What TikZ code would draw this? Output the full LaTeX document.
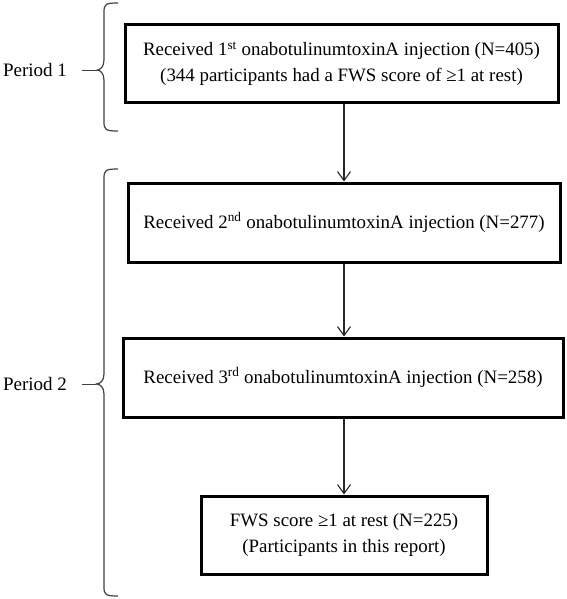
\documentclass[tikz,border=0pt]{standalone}
\usepackage{fontspec}
\setmainfont{Liberation Serif}
\usetikzlibrary{arrows.meta}
\begin{document}
\begin{tikzpicture}[x=1pt,y=-1pt,
  box/.style={draw=black,line width=3pt,inner sep=0pt,align=center,
    font=\fontsize{18.9}{26}\selectfont},
  conn/.style={draw=black!85,line width=1.1pt,-{Straight Barb[length=9pt,width=13pt,line width=1.1pt]}},
  brace/.style={draw=black!75,line width=1.2pt,line join=round},
  plabel/.style={font=\fontsize{19}{22}\selectfont,inner sep=0pt}]
\useasboundingbox (0,0) rectangle (566,599);
\node[box,minimum width=433pt,minimum height=78pt] (b1) at (341.5,64)
  {Received 1\textsuperscript{st} onabotulinumtoxinA injection (N=405)\\(344 participants had a FWS score of ≥1 at rest)};
\node[box,minimum width=432pt,minimum height=79pt] (b2) at (344,222.5)
  {Received 2\textsuperscript{nd} onabotulinumtoxinA injection (N=277)};
\node[box,minimum width=440pt,minimum height=79pt] (b3) at (343,377.5)
  {Received 3\textsuperscript{rd} onabotulinumtoxinA injection (N=258)};
\node[box,minimum width=286pt,minimum height=78pt] (b4) at (344,535)
  {FWS score ≥1 at rest (N=225)\\(Participants in this report)};
\draw[conn] (b1.south -| 344,0) -- (b2.north -| 344,0);
\draw[conn] (b2.south -| 344,0) -- (b3.north -| 344,0);
\draw[conn] (b3.south -| 344,0) -- (b4.north);
% braces
\coordinate (t1) at (97,70);
\coordinate (t2) at (96,384);
\draw[brace] (118,3) .. controls (106,3) and (104,4) .. (104,12) -- (104,60)
  .. controls (104,67) and (100,70) .. (t1) .. controls (100,70) and (104,73) .. (104,80)
  -- (104,122) .. controls (104,130) and (106,131) .. (118,131);
\draw[brace] (118,169) .. controls (106,169) and (104,170) .. (104,178) -- (104,374)
  .. controls (104,381) and (100,384) .. (t2) .. controls (100,384) and (104,387) .. (104,394)
  -- (104,587) .. controls (104,595) and (106,596) .. (118,596);
\node[plabel] (p1) at (35,70) {Period 1};
\node[plabel] (p2) at (35,384) {Period 2};
\draw[black!75,line width=0.9pt] (82,70) -- (t1);
\draw[black!75,line width=0.9pt] (82,384) -- (t2);
\end{tikzpicture}
\end{document}
